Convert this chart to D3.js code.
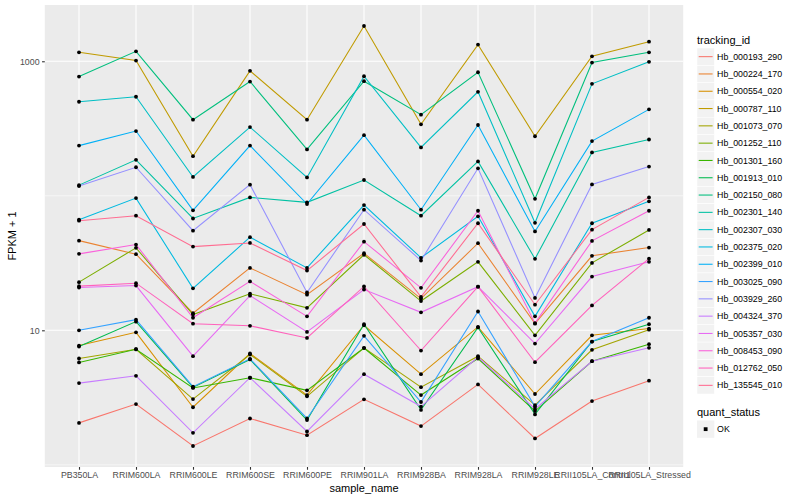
<!DOCTYPE html>
<html lang="en">
<head>
    <meta charset="UTF-8">
    <title>FPKM by sample</title>
    <style>
        html, body {
            margin: 0;
            padding: 0;
            background: white;
        }

        text {
            font-family: "Liberation Sans", Arial, sans-serif;
        }
    </style>
</head>
<body>
<svg id="chart" width="800" height="500"></svg>
<script src="https://cdnjs.cloudflare.com/ajax/libs/d3/7.8.5/d3.min.js" charset="utf-8"></script>
<script>
    "use strict"

    const samples = ["PB350LA", "RRIM600LA", "RRIM600LE", "RRIM600SE", "RRIM600PE", "RRIM901LA",
        "RRIM928BA", "RRIM928LA", "RRIM928LE", "RRII105LA_Control", "RRII105LA_Stressed"];

    const trackingIds = ["Hb_000193_290", "Hb_000224_170", "Hb_000554_020", "Hb_000787_110", "Hb_001073_070",
        "Hb_001252_110", "Hb_001301_160", "Hb_001913_010", "Hb_002150_080", "Hb_002301_140",
        "Hb_002307_030", "Hb_002375_020", "Hb_002399_010", "Hb_003025_090", "Hb_003929_260",
        "Hb_004324_370", "Hb_005357_030", "Hb_008453_090", "Hb_012762_050", "Hb_135545_010"];

    const hueColors = ["#F8766D", "#EA8331", "#D89000", "#C09B00", "#A3A500", "#7CAE00", "#39B600", "#00BB4E",
        "#00BF7D", "#00C1A3", "#00BFC4", "#00BAE0", "#00B0F6", "#35A2FF", "#9590FF", "#C77CFF",
        "#E76BF3", "#FA62DB", "#FF62BC", "#FF6C91"];

    // FPKM + 1, one row per tracking_id, one column per sample
    const fpkm = [
        [2.05, 2.83, 1.38, 2.21, 1.66, 3.07, 1.94, 3.96, 1.57, 2.98, 4.22],
        [46.4, 36.8, 13.4, 29.1, 18.4, 37.4, 17.2, 44.4, 11.2, 35.8, 41.2],
        [7.7, 9.66, 2.68, 6.72, 3.30, 10.9, 4.72, 10.6, 3.36, 9.18, 10.3],
        [1166, 1012, 197, 849, 368, 1829, 340, 1330, 277, 1089, 1399],
        [6.17, 7.23, 3.08, 6.61, 3.23, 7.41, 3.78, 6.42, 2.78, 7.16, 10.1],
        [22.8, 41.0, 13.1, 18.7, 14.7, 36.4, 16.5, 32.3, 9.18, 31.7, 55.7],
        [5.77, 7.23, 3.73, 4.44, 3.58, 7.38, 3.30, 6.17, 2.51, 5.89, 7.88],
        [7.57, 11.6, 3.76, 6.07, 2.15, 11.1, 2.56, 10.5, 2.37, 8.25, 11.1],
        [770, 1186, 368, 707, 221, 711, 401, 829, 95, 978, 1166],
        [120, 185, 67.8, 97.3, 89.4, 131, 71.1, 180, 34, 210, 262],
        [500, 545, 138, 324, 137, 774, 229, 593, 63, 680, 990],
        [66.4, 96.1, 20.5, 49.2, 29.1, 85.3, 34.6, 70.4, 12.7, 62.5, 90.9],
        [236, 303, 78, 236, 86.8, 282, 78.8, 336, 54.3, 255, 439],
        [10.0, 12.0, 3.81, 6.14, 2.21, 9.09, 2.93, 13.8, 2.71, 8.25, 12.4],
        [118, 163, 55, 121, 19.1, 78.8, 33, 160, 17.4, 121.5, 165],
        [4.05, 4.59, 1.73, 4.44, 1.77, 4.72, 2.71, 6.33, 2.60, 5.89, 7.41],
        [20.8, 21.5, 6.42, 18.1, 9.73, 20.1, 13.6, 21.1, 7.97, 25.1, 32.3],
        [37, 43.4, 12.4, 23.1, 12.7, 45.6, 20.7, 77.4, 11.3, 46.2, 77.4],
        [21.3, 22.4, 11.2, 10.8, 8.78, 21.2, 7.07, 21.1, 5.79, 15.3, 34.1],
        [65.3, 71.1, 41.9, 44.6, 27.8, 61.7, 17.7, 62.5, 15.5, 56, 97.3]
    ];

    const yTicks = [10, 1000];
    const yMinor = [1, 100];
    const statusLevels = ["OK"];

    const svg = d3.select("#chart");
    const panel = {left: 44.8, right: 683.2, top: 5, bottom: 467};

    svg.append("rect")
        .attr("width", 800)
        .attr("height", 500)
        .attr("fill", "white");

    /* scales */
    const x = d3.scalePoint()
        .domain(samples)
        .range([panel.left, panel.right])
        .padding(0.6);

    const allVals = fpkm.flat();
    const lo = Math.log10(d3.min(allVals));
    const hi = Math.log10(d3.max(allVals));
    const pad = (hi - lo) * 0.05;
    const y = d3.scaleLog()
        .domain([Math.pow(10, lo - pad), Math.pow(10, hi + pad)])
        .range([panel.bottom, panel.top]);

    const color = d3.scaleOrdinal().domain(trackingIds).range(hueColors);

    /* panel + grid */
    svg.append("rect")
        .attr("x", panel.left)
        .attr("y", panel.top)
        .attr("width", panel.right - panel.left)
        .attr("height", panel.bottom - panel.top)
        .attr("fill", "#EBEBEB");

    svg.append("g").selectAll("line")
        .data(yMinor)
        .enter()
        .append("line")
        .attr("x1", panel.left)
        .attr("x2", panel.right)
        .attr("y1", d => y(d))
        .attr("y2", d => y(d))
        .attr("stroke", "white")
        .attr("stroke-width", 0.55);

    svg.append("g").selectAll("line")
        .data(yTicks)
        .enter()
        .append("line")
        .attr("x1", panel.left)
        .attr("x2", panel.right)
        .attr("y1", d => y(d))
        .attr("y2", d => y(d))
        .attr("stroke", "white")
        .attr("stroke-width", 1.1);

    svg.append("g").selectAll("line")
        .data(samples)
        .enter()
        .append("line")
        .attr("x1", d => x(d))
        .attr("x2", d => x(d))
        .attr("y1", panel.top)
        .attr("y2", panel.bottom)
        .attr("stroke", "white")
        .attr("stroke-width", 1.1);

    /* axes */
    const xAxis = svg.append("g")
        .attr("transform", `translate(0,${panel.bottom})`)
        .call(d3.axisBottom(x).tickSize(2.75).tickPadding(2.5));
    const yAxis = svg.append("g")
        .attr("transform", `translate(${panel.left},0)`)
        .call(d3.axisLeft(y).tickValues(yTicks).tickFormat(d3.format("d")).tickSize(2.75).tickPadding(2.5));

    [xAxis, yAxis].forEach(a => {
        a.select(".domain").remove();
        a.selectAll(".tick line").attr("stroke", "#333333").attr("stroke-width", 1.1);
        a.selectAll(".tick text")
            .attr("fill", "#4D4D4D")
            .attr("font-size", "8.8px")
            .attr("font-family", "Liberation Sans, Arial, sans-serif");
    });

    svg.append("text")
        .attr("x", (panel.left + panel.right) / 2)
        .attr("y", 492)
        .attr("text-anchor", "middle")
        .attr("font-size", "11px")
        .text("sample_name");

    svg.append("text")
        .attr("transform", `translate(16,${(panel.top + panel.bottom) / 2}) rotate(-90)`)
        .attr("text-anchor", "middle")
        .attr("font-size", "11px")
        .text("FPKM + 1");

    /* lines + points */
    const line = d3.line()
        .x((d, i) => x(samples[i]))
        .y(d => y(d));

    svg.append("g").selectAll("path")
        .data(fpkm)
        .enter()
        .append("path")
        .attr("d", d => line(d))
        .attr("fill", "none")
        .attr("stroke", (d, i) => color(trackingIds[i]))
        .attr("stroke-width", 1.07);

    const pts = [];
    fpkm.forEach((row, i) => row.forEach((v, j) => pts.push({s: samples[j], v: v})));

    svg.append("g").selectAll("circle")
        .data(pts)
        .enter()
        .append("circle")
        .attr("cx", d => x(d.s))
        .attr("cy", d => y(d.v))
        .attr("r", 1.9)
        .attr("fill", "black");

    /* legend */
    const lg = svg.append("g").attr("transform", "translate(697,0)");
    const keyH = 17.3;

    lg.append("text")
        .attr("x", 0)
        .attr("y", 44)
        .attr("font-size", "11px")
        .text("tracking_id");

    const keys = lg.selectAll("g.key")
        .data(trackingIds)
        .enter()
        .append("g")
        .attr("class", "key")
        .attr("transform", (d, i) => `translate(0,${48 + i * keyH})`);

    keys.append("rect")
        .attr("width", keyH)
        .attr("height", keyH)
        .attr("fill", "#F2F2F2")
        .attr("stroke", "white")
        .attr("stroke-width", 0.5);

    keys.append("line")
        .attr("x1", 1.7)
        .attr("x2", keyH - 1.7)
        .attr("y1", keyH / 2)
        .attr("y2", keyH / 2)
        .attr("stroke", d => color(d))
        .attr("stroke-width", 1.07);

    keys.append("text")
        .attr("x", keyH + 2.8)
        .attr("y", keyH / 2 + 3.1)
        .attr("font-size", "8.8px")
        .text(d => d);

    lg.append("text")
        .attr("x", 0)
        .attr("y", 416)
        .attr("font-size", "11px")
        .text("quant_status");

    const sk = lg.selectAll("g.skey")
        .data(statusLevels)
        .enter()
        .append("g")
        .attr("class", "skey")
        .attr("transform", (d, i) => `translate(0,${420.5 + i * keyH})`);

    sk.append("rect")
        .attr("width", keyH)
        .attr("height", keyH)
        .attr("fill", "#F2F2F2");

    sk.append("rect")
        .attr("x", keyH / 2 - 1.9)
        .attr("y", keyH / 2 - 1.9)
        .attr("width", 3.8)
        .attr("height", 3.8)
        .attr("fill", "black");

    sk.append("text")
        .attr("x", keyH + 2.8)
        .attr("y", keyH / 2 + 3.1)
        .attr("font-size", "8.8px")
        .text(d => d);
</script>
</body>
</html>
